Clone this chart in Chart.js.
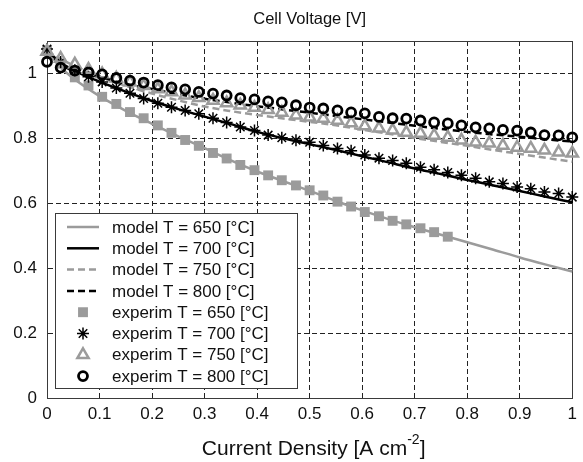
<!DOCTYPE html>
<html>
<head>
<meta charset="utf-8">
<script src="https://cdn.jsdelivr.net/npm/chart.js@4.4.1/dist/chart.umd.min.js"></script>
<style>
  html, body { margin: 0; padding: 0; background: #fff; }
</style>
</head>
<body>
<canvas id="chart" width="583" height="462"></canvas>
<script>
// measured points (current density, A/cm2)
const expX = [0, 0.026, 0.053, 0.079, 0.105, 0.132, 0.158, 0.184, 0.211, 0.237, 0.263, 0.289, 0.316,
  0.342, 0.368, 0.395, 0.421, 0.447, 0.474, 0.5, 0.526, 0.553, 0.579, 0.605, 0.632, 0.658, 0.684,
  0.711, 0.737, 0.763, 0.789, 0.816, 0.842, 0.868, 0.895, 0.921, 0.947, 0.974, 1];

const exp650 = [1.07, 1.03, 0.988, 0.963, 0.928, 0.906, 0.881, 0.862, 0.840, 0.817, 0.795, 0.777, 0.755,
  0.738, 0.718, 0.702, 0.686, 0.671, 0.655, 0.640, 0.624, 0.605, 0.590, 0.573, 0.560, 0.546, 0.535,
  0.523, 0.511, 0.497];
const exp700 = [1.075, 1.035, 1.01, 0.99, 0.974, 0.955, 0.939, 0.923, 0.908, 0.896, 0.886, 0.876, 0.862,
  0.849, 0.835, 0.824, 0.810, 0.802, 0.794, 0.788, 0.778, 0.769, 0.762, 0.749, 0.739, 0.732, 0.723,
  0.711, 0.703, 0.695, 0.686, 0.677, 0.666, 0.661, 0.650, 0.645, 0.635, 0.630, 0.619];
const exp750 = [1.068, 1.046, 1.028, 1.012, 0.998, 0.985, 0.973, 0.962, 0.952, 0.943, 0.933, 0.925, 0.917,
  0.909, 0.902, 0.895, 0.888, 0.880, 0.871, 0.865, 0.861, 0.855, 0.847, 0.838, 0.831, 0.825, 0.818,
  0.815, 0.809, 0.803, 0.794, 0.788, 0.785, 0.778, 0.772, 0.769, 0.763, 0.757, 0.754];
const exp800 = [1.036, 1.018, 1.009, 1.003, 0.997, 0.986, 0.978, 0.972, 0.964, 0.957, 0.951, 0.943, 0.938,
  0.932, 0.924, 0.920, 0.914, 0.911, 0.902, 0.895, 0.892, 0.886, 0.880, 0.877, 0.866, 0.862, 0.861,
  0.855, 0.849, 0.846, 0.840, 0.834, 0.831, 0.826, 0.824, 0.818, 0.810, 0.809, 0.803];

// model curves
const modelX = [0, 0.025, 0.05, 0.1, 0.15, 0.2, 0.25, 0.3, 0.35, 0.4, 0.45, 0.5, 0.55, 0.6, 0.65, 0.7,
  0.75, 0.8, 0.85, 0.9, 0.95, 1];
const model650 = [1.07, 1.02, 0.985, 0.93, 0.885, 0.845, 0.806, 0.77, 0.732, 0.698, 0.668, 0.638, 0.607,
  0.578, 0.551, 0.526, 0.503, 0.48, 0.457, 0.433, 0.411, 0.39];
const model700 = [1.07, 1.035, 1.01, 0.975, 0.944, 0.915, 0.89, 0.867, 0.844, 0.82, 0.8, 0.782, 0.764,
  0.745, 0.726, 0.707, 0.69, 0.672, 0.655, 0.638, 0.62, 0.603];
const model750 = [1.07, 1.045, 1.025, 0.99, 0.962, 0.938, 0.917, 0.898, 0.884, 0.872, 0.861, 0.851, 0.84,
  0.827, 0.814, 0.801, 0.789, 0.777, 0.764, 0.752, 0.74, 0.728];
const model800 = [1.07, 1.03, 1.008, 0.99, 0.968, 0.952, 0.936, 0.922, 0.91, 0.899, 0.889, 0.879, 0.869,
  0.859, 0.849, 0.839, 0.829, 0.82, 0.812, 0.805, 0.797, 0.79];

const xTicks = [0, 0.1, 0.2, 0.3, 0.4, 0.5, 0.6, 0.7, 0.8, 0.9, 1];
const xLabels = ['0', '0.1', '0.2', '0.3', '0.4', '0.5', '0.6', '0.7', '0.8', '0.9', '1'];
const yTicks = [0, 0.2, 0.4, 0.6, 0.8, 1];
const yLabels = ['0', '0.2', '0.4', '0.6', '0.8', '1'];

const GRAY = '#9b9b9b';
const FONT = '"Liberation Sans", Arial, Helvetica, sans-serif';

function pts(xs, ys) {
  return ys.map((y, i) => ({ x: xs[i], y: y }));
}

function modelSet(label, ys, color, dash, order) {
  return {
    label: label, data: pts(modelX, ys), showLine: true,
    borderColor: color, borderWidth: 2.5, borderDash: dash,
    pointRadius: 0, cubicInterpolationMode: 'monotone', order: order
  };
}

// frame, title, legend box and x title with a superscript
const extras = {
  id: 'extras',
  beforeDatasetsDraw(chart) {
    const ctx = chart.ctx, a = chart.chartArea;
    ctx.save();
    ctx.strokeStyle = '#3a3a3a';
    ctx.lineWidth = 1;
    ctx.strokeRect(Math.round(a.left) + 0.5, Math.round(a.top) + 0.5,
      Math.round(a.right - a.left), Math.round(a.bottom - a.top));
    ctx.restore();
  },
  afterDraw(chart) {
    const ctx = chart.ctx, a = chart.chartArea;
    const cx = (a.left + a.right) / 2;
    ctx.save();

    // title over the plot area
    ctx.fillStyle = '#111';
    ctx.font = '16.5px ' + FONT;
    ctx.textAlign = 'center';
    ctx.textBaseline = 'middle';
    ctx.fillText('Cell Voltage [V]', cx, 19);
    ctx.textAlign = 'left';

    // legend
    const bx = 55, by = 213, bw = 242, bh = 175;
    ctx.fillStyle = '#fff';
    ctx.fillRect(bx, by, bw, bh);
    ctx.strokeStyle = '#3a3a3a';
    ctx.lineWidth = 1;
    ctx.strokeRect(bx + 0.5, by + 0.5, bw, bh);
    ctx.font = '17px ' + FONT;
    chart.data.datasets.forEach((ds, i) => {
      const y = by + 14 + i * 21.3;
      if (ds.showLine) {
        ctx.strokeStyle = ds.borderColor;
        ctx.lineWidth = ds.borderWidth;
        ctx.setLineDash(ds.borderDash || []);
        ctx.beginPath();
        ctx.moveTo(67, y);
        ctx.lineTo(99, y);
        ctx.stroke();
        ctx.setLineDash([]);
      } else {
        ctx.strokeStyle = ds.borderColor;
        ctx.fillStyle = ds.backgroundColor;
        ctx.lineWidth = ds.borderWidth;
        Chart.helpers.drawPoint(ctx, {
          pointStyle: ds.pointStyle, radius: ds.pointRadius,
          borderWidth: ds.borderWidth, rotation: 0
        }, 83, y);
      }
      ctx.fillStyle = '#111';
      ctx.fillText(ds.label, 112, y + 1);
    });

    // x axis title
    const main = 'Current Density [A cm', sup = '-2', end = ']';
    ctx.font = '21px ' + FONT;
    const w1 = ctx.measureText(main).width, w3 = ctx.measureText(end).width;
    ctx.font = '14px ' + FONT;
    const w2 = ctx.measureText(sup).width;
    let x = cx + 4 - (w1 + w2 + w3) / 2;
    const base = 455;
    ctx.textBaseline = 'alphabetic';
    ctx.fillStyle = '#111';
    ctx.font = '21px ' + FONT;
    ctx.fillText(main, x, base);
    ctx.font = '14px ' + FONT;
    ctx.fillText(sup, x + w1, base - 11);
    ctx.font = '21px ' + FONT;
    ctx.fillText(end, x + w1 + w2, base);
    ctx.restore();
  }
};

new Chart(document.getElementById('chart'), {
  type: 'scatter',
  data: {
    datasets: [
      modelSet('model T = 650 [°C]', model650, GRAY, [], 8),
      modelSet('model T = 700 [°C]', model700, '#000', [], 7),
      modelSet('model T = 750 [°C]', model750, GRAY, [7, 4], 6),
      modelSet('model T = 800 [°C]', model800, '#000', [7, 4], 5),
      {
        label: 'experim T = 650 [°C]', data: pts(expX, exp650),
        pointStyle: 'rect', pointRadius: 7, borderWidth: 0,
        backgroundColor: GRAY, borderColor: GRAY, order: 4
      },
      {
        label: 'experim T = 700 [°C]', data: pts(expX, exp700),
        pointStyle: 'star', pointRadius: 6, borderWidth: 1.5,
        backgroundColor: '#000', borderColor: '#000', order: 3
      },
      {
        label: 'experim T = 750 [°C]', data: pts(expX, exp750),
        pointStyle: 'triangle', pointRadius: 6.5, borderWidth: 2.5,
        backgroundColor: 'rgba(0,0,0,0)', borderColor: GRAY, order: 2
      },
      {
        label: 'experim T = 800 [°C]', data: pts(expX, exp800),
        pointStyle: 'circle', pointRadius: 4.5, borderWidth: 2.8,
        backgroundColor: 'rgba(0,0,0,0)', borderColor: '#000', order: 1
      }
    ]
  },
  options: {
    responsive: false,
    animation: false,
    clip: false,
    layout: { padding: { top: 41, right: 2 } },
    scales: {
      x: {
        type: 'linear', min: 0, max: 1,
        afterBuildTicks: s => { s.ticks = xTicks.map(v => ({ value: v })); },
        afterFit: s => { s.height = 64; },
        ticks: {
          autoSkip: false, maxRotation: 0, padding: 6, color: '#111',
          font: { family: FONT, size: 17 },
          callback: (v, i) => xLabels[i]
        },
        grid: { color: '#222', lineWidth: 1, drawTicks: false },
        border: { display: true, color: '#3a3a3a', dash: [5, 3] }
      },
      y: {
        type: 'linear', min: 0, max: 1.1,
        afterBuildTicks: s => { s.ticks = yTicks.map(v => ({ value: v })); },
        afterFit: s => { s.width = 47; },
        ticks: {
          padding: 10, color: '#111',
          font: { family: FONT, size: 17 },
          callback: (v, i) => yLabels[i]
        },
        grid: { color: '#222', lineWidth: 1, drawTicks: false },
        border: { display: true, color: '#3a3a3a', dash: [5, 3] }
      }
    },
    plugins: {
      legend: { display: false },
      tooltip: { enabled: false },
      title: { display: false }
    }
  },
  plugins: [extras]
});
</script>
</body>
</html>
